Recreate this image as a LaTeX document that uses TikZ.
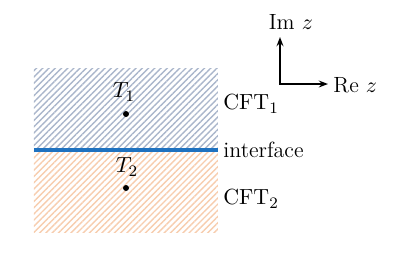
\documentclass[tikz,border=0pt]{standalone}
\usepackage{amsmath}
\usetikzlibrary{positioning,arrows.meta,patterns.meta}
\definecolor{cblue}{HTML}{1F72C0}
\definecolor{cslate}{HTML}{AAB6CB}
\definecolor{cpeach}{HTML}{F7CDAE}
\begin{document}
\begin{tikzpicture}[x=0.5pt, y=-0.5pt, font=\fontsize{11}{13}\selectfont,
  hatch/.style={draw=none, pattern={Lines[angle=45, distance=2.2pt, line width=0.7pt]}},
  iface/.style={cblue, line width=1.6pt},
  pt/.style={circle, fill=black, inner sep=0pt, minimum size=3pt},
  lbl/.style={anchor=west, inner sep=1pt},
  axis/.style={{Stealth[length=1.6mm, width=1.2mm]}-{Stealth[length=1.6mm, width=1.2mm]}, line width=0.8pt}]
\useasboundingbox (0,0) rectangle (393,254);

\fill[hatch, pattern color=cslate] (34,68) rectangle (218,150);
\fill[hatch, pattern color=cpeach] (34,150) rectangle (218,232);

\coordinate (ifl) at (34,150);
\coordinate (ifr) at (218,150);
\draw[iface] (ifl) -- (ifr);

\node[pt] (p1) at (126,114) {};
\node[pt] (p2) at (126,188) {};
\node (t1) at (124,92) {$T_1$};
\node (t2) at (127,167) {$T_2$};

\node[lbl] (cft1) at (221,104) {$\mathrm{CFT}_1$};
\node[lbl] (itxt) at (221,150) {interface};
\node[lbl] (cft2) at (221,199) {$\mathrm{CFT}_2$};

% axes
\coordinate (imtip) at (280,37);
\coordinate (retip) at (328,84);
\draw[axis] (imtip) |- (retip);
\node (imz) at (291,22) {Im $z$};
\node[lbl] (rez) at (331,85) {Re $z$};
\end{tikzpicture}
\end{document}
